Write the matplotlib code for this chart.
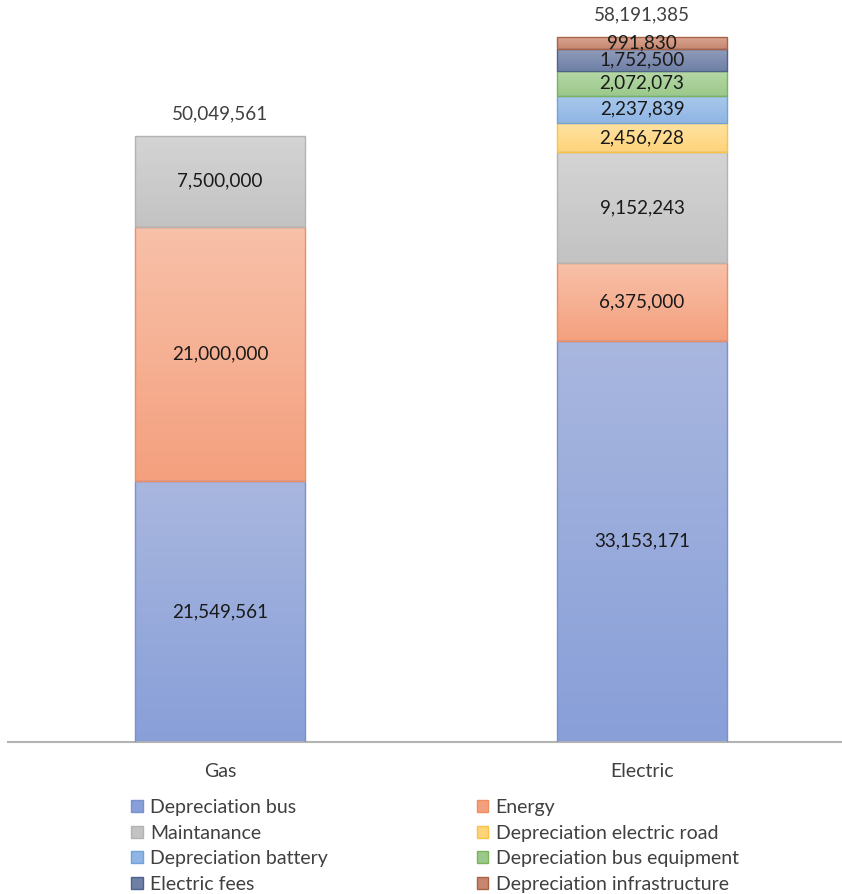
import numpy as np
import matplotlib
matplotlib.use("Agg")
import matplotlib.pyplot as plt
from matplotlib.colors import LinearSegmentedColormap
from matplotlib.patches import Patch

plt.rcParams["font.family"] = ["Lato", "DejaVu Sans"]

# data
categories = ["Gas", "Electric"]
series_names = ["Depreciation bus", "Energy", "Maintanance", "Depreciation electric road",
                "Depreciation battery", "Depreciation bus equipment", "Electric fees",
                "Depreciation infrastructure"]
depreciation_bus = [21549561, 33153171]
energy = [21000000, 6375000]
maintanance = [7500000, 9152243]
dep_electric_road = [0, 2456728]
dep_battery = [0, 2237839]
dep_bus_equipment = [0, 2072073]
electric_fees = [0, 1752500]
dep_infrastructure = [0, 991830]
totals = [50049561, 58191385]

series_values = [depreciation_bus, energy, maintanance, dep_electric_road,
                 dep_battery, dep_bus_equipment, electric_fees, dep_infrastructure]

# (top colour, bottom colour, edge colour) -- excel style gradient fills
styles = [
    ("#a9b7df", "#889fd8", "#7692d0"),
    ("#f8c1a9", "#f4a07e", "#ee8d61"),
    ("#d4d4d4", "#c3c3c3", "#b3b3b3"),
    ("#fee3a3", "#fed37a", "#f9c443"),
    ("#aac9ec", "#8fb5e5", "#6ea3dc"),
    ("#b7d8a8", "#9bc98a", "#7bb25c"),
    ("#909cbb", "#6f7fa6", "#4f628f"),
    ("#dba895", "#c6876e", "#ab6244"),
]

fs = 14
fs_lab = 13.6

fig = plt.figure(figsize=(8.42, 8.94), dpi=100)
ax = fig.add_axes([8 / 842, (894 - 742) / 894, 1 - 8 / 842, 742 / 894])

x = np.arange(len(categories))
width = 0.403
bottoms = np.zeros(len(categories))

for vals, (top, bot, edge) in zip(series_values, styles):
    vals = np.array(vals, dtype=float)
    cmap = LinearSegmentedColormap.from_list("g", [bot, top])
    for v, b, xi in zip(vals, bottoms, x):
        if v <= 0:
            continue
        rect = ax.bar(xi, v, width, bottom=b, facecolor="none",
                      edgecolor=edge, linewidth=1.0, zorder=3)[0]
        grad = np.linspace(0, 1, 256).reshape(-1, 1)
        im = ax.imshow(grad, extent=[xi - width / 2, xi + width / 2, b, b + v],
                       origin="lower", cmap=cmap, aspect="auto", zorder=2,
                       interpolation="bilinear")
        im.set_clip_path(rect)
        ax.text(xi, b + v / 2, f"{int(v):,}", ha="center", va="center",
                fontsize=fs_lab, color="#1a1a1a", zorder=4)
    bottoms += vals

for xi, t in zip(x, totals):
    ax.annotate(f"{t:,}", (xi, t), xytext=(0, 16), textcoords="offset points",
                ha="center", va="center", fontsize=fs_lab, color="#404040")

ax.set_xlim(-0.5024, 1.474)
ax.set_ylim(0, 742 / 12.11 * 1e6)
ax.set_xticks(x)
ax.set_xticklabels(categories, fontsize=fs, color="#404040")
ax.tick_params(axis="x", length=0, pad=15)
ax.set_yticks([])
for s in ["top", "left", "right"]:
    ax.spines[s].set_visible(False)
ax.spines["bottom"].set_color("#b4b4b4")
ax.spines["bottom"].set_linewidth(1.5)

# legend, filled column by column
handles = [Patch(facecolor=st[1], edgecolor=st[2]) for st in styles]
order = [0, 2, 4, 6, 1, 3, 5, 7]
leg = fig.legend([handles[i] for i in order], [series_names[i] for i in order],
                 loc="upper left", bbox_to_anchor=(131 / 842, 1 - 799 / 894),
                 ncol=2, frameon=False, fontsize=fs, handlelength=0.6,
                 handleheight=0.6, handletextpad=0.38, labelspacing=0.44,
                 columnspacing=7.65, borderaxespad=0, borderpad=0)
for t in leg.get_texts():
    t.set_color("#404040")

fig.savefig("out.png", dpi=100)
